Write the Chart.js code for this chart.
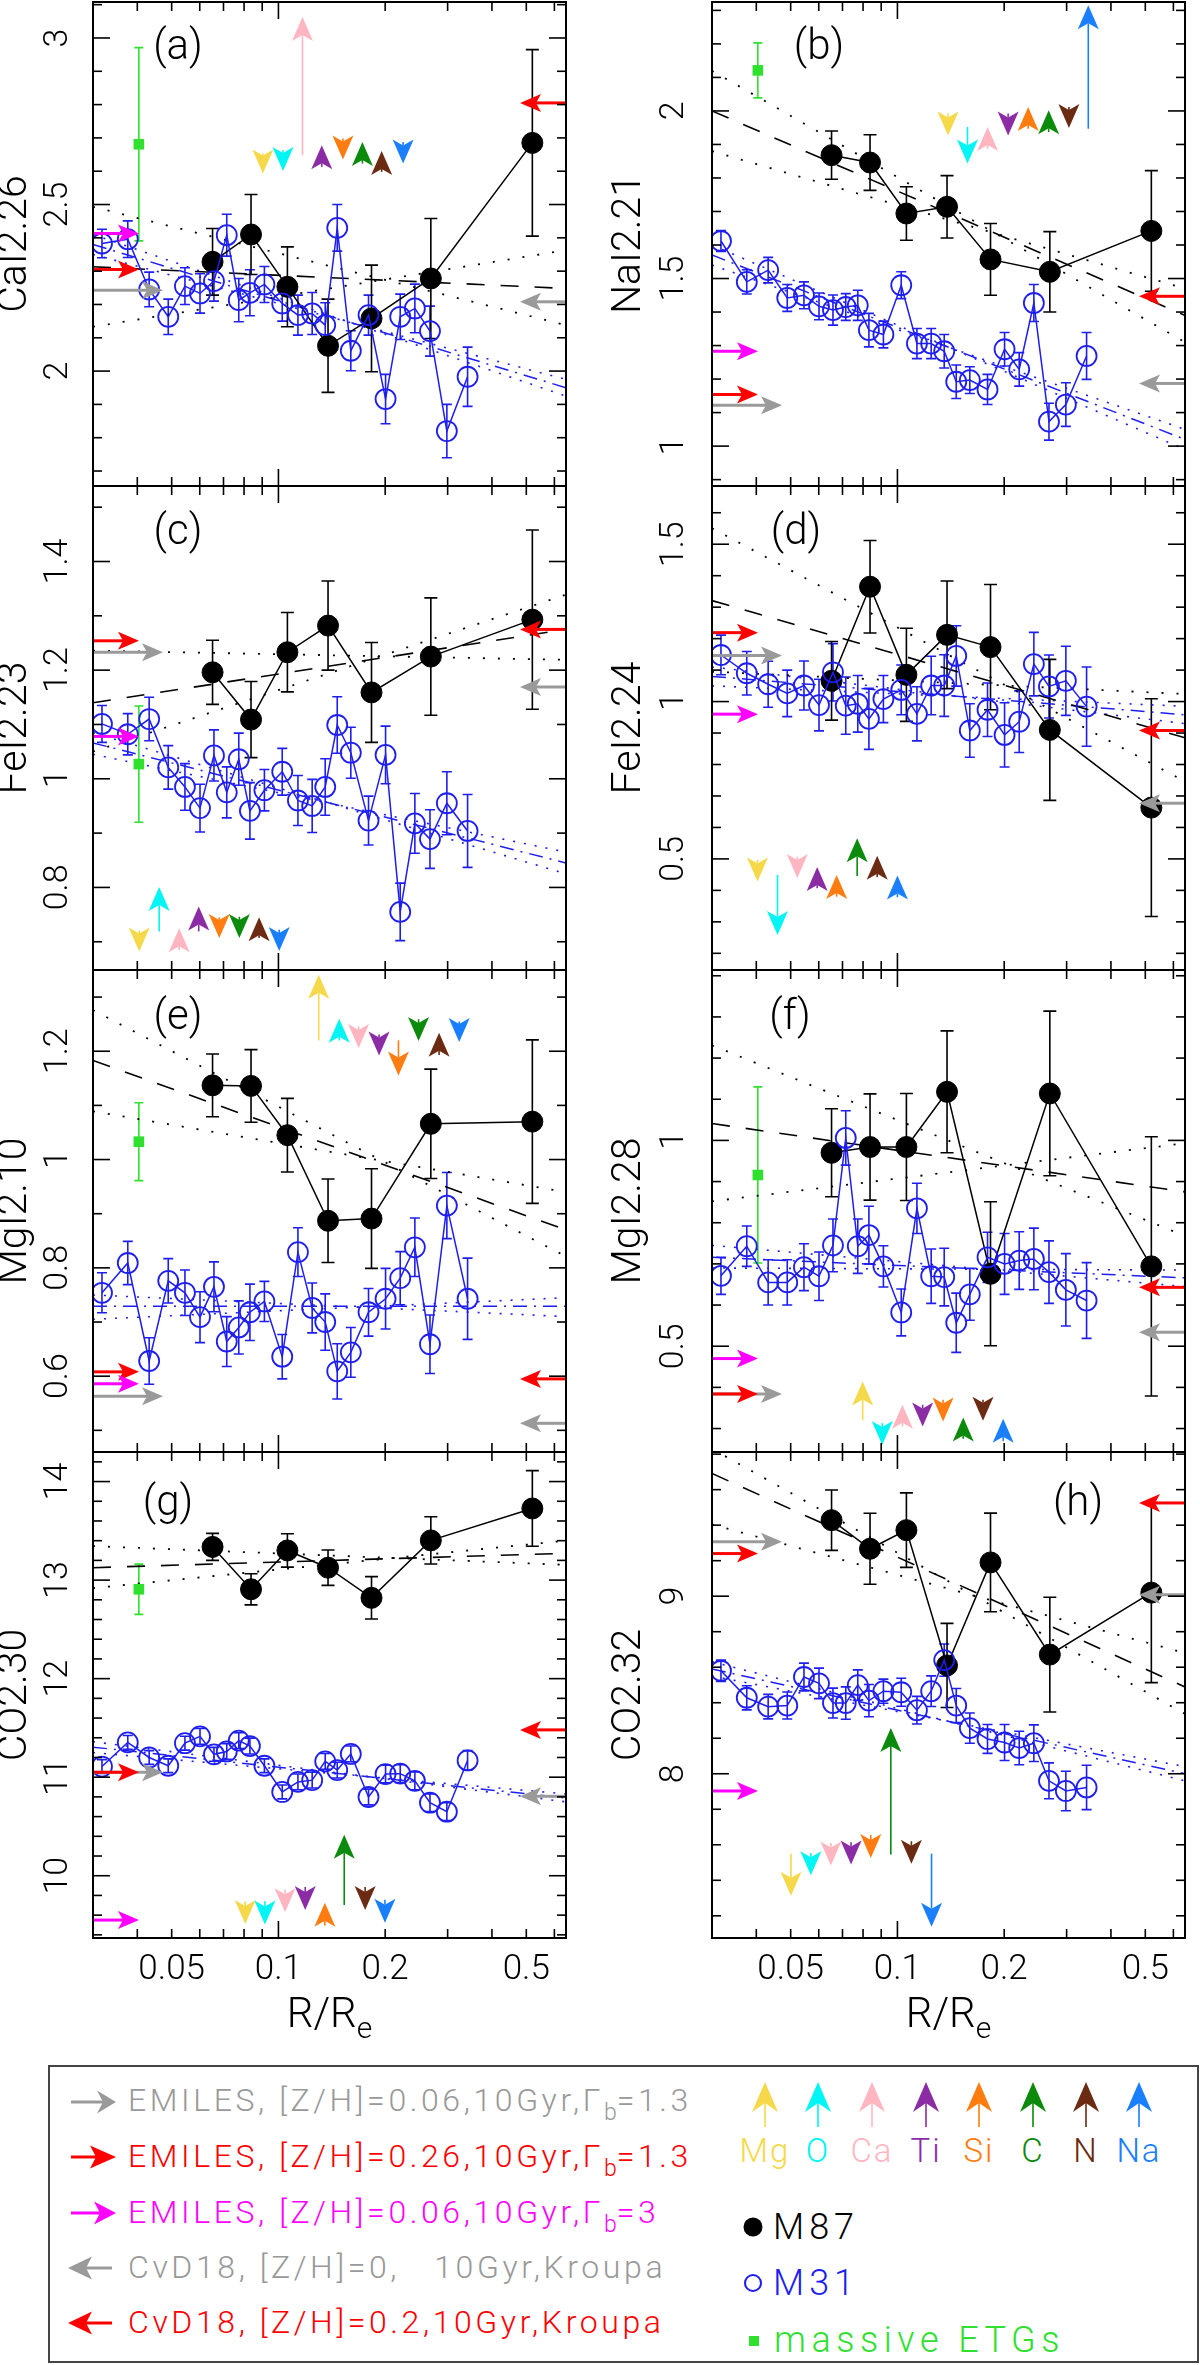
<!DOCTYPE html>
<html><head><meta charset="utf-8">
<script src="https://cdn.jsdelivr.net/npm/chart.js@4.4.1/dist/chart.umd.min.js"></script>
<style>
html,body{margin:0;padding:0;background:#fff;}
body{width:1200px;height:2365px;position:relative;overflow:hidden;font-family:Roboto,"DejaVu Sans",sans-serif;}
#legend{position:absolute;left:48px;top:2065px;width:1151px;height:298px;border:2px solid #444;box-sizing:border-box;}
.lt{position:absolute;white-space:pre;line-height:1;transform:translateY(-50%);font-weight:300;}
.lt sub{font-size:72%;vertical-align:-0.38em;line-height:0;letter-spacing:0;}
.el{position:absolute;line-height:1;transform:translate(-50%,-50%);font-size:33px;font-weight:300;letter-spacing:2px;}
#lsvg{position:absolute;left:0;top:2040px;}
.row{font-size:32px;letter-spacing:3.6px;}
</style></head><body>
<div id="legend"></div>
<svg id="lsvg" width="1200" height="325"></svg>
<div class="lt row" style="left:128px;top:2100px;color:#999">EMILES, [Z/H]=0.06,10Gyr,Γ<sub>b</sub>=1.3</div>
<div class="lt row" style="left:128px;top:2156px;color:#ff0000">EMILES, [Z/H]=0.26,10Gyr,Γ<sub>b</sub>=1.3</div>
<div class="lt row" style="left:128px;top:2212px;color:#ff00ff">EMILES, [Z/H]=0.06,10Gyr,Γ<sub>b</sub>=3</div>
<div class="lt row" style="left:128px;top:2267px;color:#999">CvD18, [Z/H]=0,   10Gyr,Kroupa</div>
<div class="lt row" style="left:128px;top:2322px;color:#ff0000">CvD18, [Z/H]=0.2,10Gyr,Kroupa</div>
<div class="lt" style="left:773px;top:2227px;font-size:36px;letter-spacing:5px;color:#000">M87</div>
<div class="lt" style="left:773px;top:2283px;font-size:36px;letter-spacing:5px;color:#1e1ef0">M31</div>
<div class="lt" style="left:774px;top:2340px;font-size:36px;letter-spacing:5.5px;color:#2fe02f">massive ETGs</div>
<div id="ellabels"></div>
<script>
// ---------------- shared radii ----------------
const R_M87 = [0.0652, 0.0837, 0.106, 0.138, 0.183, 0.269, 0.52];
const R_M31 = [0.0318, 0.0376, 0.0432, 0.0489, 0.0545, 0.0601, 0.0658, 0.0715, 0.0773, 0.0831, 0.0913, 0.1025,
               0.1135, 0.1245, 0.1355, 0.1465, 0.160, 0.1795, 0.2005, 0.2205, 0.2425, 0.2675, 0.2985, 0.3415];
const R_ETG = [0.0404];
const R_FIT = [0.03, 0.647];
const X_MIN = 0.03, X_MAX = 0.647;
const X_TICK_LABELS = [0.05, 0.1, 0.2, 0.5];
const X_MINOR = [0.04, 0.05, 0.06, 0.07, 0.08, 0.09, 0.2, 0.3, 0.4, 0.5, 0.6];
const X_MAJOR = [0.1];
const ELEMENTS = ['Mg', 'O', 'Ca', 'Ti', 'Si', 'C', 'N', 'Na'];
const EL_COLORS = ['#f5d94a', '#00f5f5', '#ffb6c1', '#8b2ca5', '#ff7c10', '#0b8a0b', '#6b2a12', '#1a7fff'];

// ---------------- (a) CaI2.26 ----------------
const CaI_m87 = [2.328, 2.41, 2.253, 2.076, 2.158, 2.278, 2.685];
const CaI_m87e = [0.10, 0.12, 0.12, 0.14, 0.16, 0.18, 0.28];
const CaI_m31 = [2.383, 2.396, 2.245, 2.163, 2.255, 2.233, 2.27, 2.408, 2.213, 2.235, 2.26, 2.203, 2.168, 2.173, 2.138, 2.43, 2.061, 2.168, 1.916, 2.163, 2.188, 2.12, 1.82, 1.983];
const CaI_m31e = [0.043, 0.055, 0.052, 0.053, 0.055, 0.059, 0.06, 0.063, 0.065, 0.069, 0.054, 0.053, 0.06, 0.063, 0.067, 0.07, 0.06, 0.06, 0.074, 0.068, 0.073, 0.075, 0.08, 0.089];
const CaI_etg = [2.681, 0.29];
const CaI_fitM87 = [[2.313, 2.248], [2.493, 2.138], [2.133, 2.363]];
const CaI_fitM31 = [[2.38, 1.95], [2.41, 1.925], [2.35, 1.975]];
const CaI_emiles = [2.243, 2.305, 2.413];
const CaI_cvd = [2.208, 2.805];
const CaI_elR = [0.0904, 0.103, 0.1169, 0.1325, 0.152, 0.1725, 0.1955, 0.2247];
const CaI_elFrom = [2.653, 2.663, 2.648, 2.613, 2.698, 2.623, 2.598, 2.688];
const CaI_elTo = [2.593, 2.601, 3.063, 2.678, 2.635, 2.688, 2.661, 2.623];

// ---------------- (b) NaI2.21 ----------------
const NaI_m87 = [1.868, 1.846, 1.694, 1.714, 1.557, 1.52, 1.642];
const NaI_m87e = [0.072, 0.083, 0.08, 0.093, 0.107, 0.12, 0.18];
const NaI_m31 = [1.612, 1.49, 1.525, 1.442, 1.45, 1.417, 1.406, 1.415, 1.42, 1.346, 1.333, 1.48, 1.306, 1.306, 1.283, 1.192, 1.197, 1.169, 1.289, 1.229, 1.427, 1.073, 1.124, 1.269];
const NaI_m31e = [0.031, 0.036, 0.038, 0.04, 0.04, 0.04, 0.045, 0.04, 0.045, 0.05, 0.04, 0.04, 0.045, 0.045, 0.05, 0.05, 0.04, 0.045, 0.05, 0.05, 0.055, 0.055, 0.065, 0.07];
const NaI_etg = [2.121, 0.082];
const NaI_fitM87 = [[2.0, 1.39], [2.12, 1.31], [1.88, 1.47]];
const NaI_fitM31 = [[1.57, 1.02], [1.60, 0.99], [1.54, 1.05]];
const NaI_emiles = [1.122, 1.154, 1.283];
const NaI_cvd = [1.187, 1.447];
const NaI_elR = [0.1389, 0.1576, 0.1796, 0.2052, 0.2337, 0.267, 0.3045, 0.3453];
const NaI_elFrom = [1.992, 1.952, 1.888, 1.992, 1.947, 1.937, 2.012, 1.947];
const NaI_elTo = [1.927, 1.843, 1.952, 1.927, 2.012, 2.002, 1.949, 2.315];

// ---------------- (c) FeI2.23 ----------------
const Fe223_m87 = [1.196, 1.109, 1.233, 1.282, 1.159, 1.225, 1.293];
const Fe223_m87e = [0.059, 0.07, 0.073, 0.082, 0.092, 0.108, 0.165];
const Fe223_m31 = [1.101, 1.082, 1.11, 1.021, 0.985, 0.946, 1.043, 0.975, 1.036, 0.941, 0.979, 1.013, 0.96, 0.95, 0.985, 1.099, 1.048, 0.923, 1.044, 0.755, 0.918, 0.889, 0.955, 0.904];
const Fe223_m31e = [0.034, 0.038, 0.04, 0.04, 0.043, 0.044, 0.047, 0.047, 0.048, 0.052, 0.038, 0.043, 0.046, 0.049, 0.052, 0.052, 0.047, 0.045, 0.053, 0.053, 0.055, 0.054, 0.058, 0.067];
const Fe223_etg = [1.027, 0.107];
const Fe223_fitM87 = [[1.14, 1.275], [1.236, 1.219], [1.05, 1.339]];
const Fe223_fitM31 = [[1.066, 0.845], [1.085, 0.825], [1.045, 0.865]];
const Fe223_emiles = [1.233, 1.254, 1.078];
const Fe223_cvd = [1.169, 1.275];
const Fe223_elR = [0.0405, 0.0461, 0.0525, 0.0596, 0.0681, 0.0776, 0.0882, 0.1005];
const Fe223_elFrom = [0.721, 0.719, 0.685, 0.719, 0.745, 0.746, 0.707, 0.722];
const Fe223_elTo = [0.682, 0.801, 0.725, 0.765, 0.707, 0.707, 0.745, 0.683];

// ---------------- (d) FeI2.24 ----------------
const Fe224_m87 = [1.066, 1.365, 1.085, 1.212, 1.173, 0.91, 0.663];
const Fe224_m87e = [0.125, 0.147, 0.148, 0.171, 0.199, 0.224, 0.346];
const Fe224_m31 = [1.148, 1.09, 1.055, 1.026, 1.051, 0.989, 1.093, 0.987, 0.993, 0.945, 1.008, 1.037, 0.961, 1.051, 1.051, 1.145, 0.908, 0.974, 0.894, 0.936, 1.119, 1.048, 1.066, 0.984];
const Fe224_m31e = [0.063, 0.069, 0.073, 0.074, 0.078, 0.082, 0.091, 0.091, 0.09, 0.097, 0.075, 0.079, 0.086, 0.093, 0.098, 0.096, 0.085, 0.085, 0.102, 0.098, 0.101, 0.1, 0.11, 0.126];
const Fe224_etg = null;
const Fe224_fitM87 = [[1.321, 0.885], [1.551, 0.746], [1.095, 1.024]];
const Fe224_fitM31 = [[1.08, 0.958], [1.11, 0.93], [1.05, 0.985]];
const Fe224_emiles = [1.146, 1.219, 0.96];
const Fe224_cvd = [0.677, 0.908];
const Fe224_elR = [0.0403, 0.0459, 0.0522, 0.0594, 0.0674, 0.077, 0.0877, 0.1];
const Fe224_elFrom = [0.497, 0.449, 0.507, 0.407, 0.38, 0.446, 0.442, 0.378];
const Fe224_elTo = [0.428, 0.258, 0.439, 0.474, 0.449, 0.566, 0.51, 0.447];

// ---------------- (e) MgI2.10 ----------------
const Mg210_m87 = [1.137, 1.136, 1.045, 0.887, 0.891, 1.066, 1.07];
const Mg210_m87e = [0.058, 0.067, 0.068, 0.077, 0.092, 0.101, 0.151];
const Mg210_m31 = [0.754, 0.809, 0.628, 0.776, 0.754, 0.709, 0.765, 0.664, 0.69, 0.718, 0.738, 0.636, 0.829, 0.726, 0.7, 0.609, 0.644, 0.718, 0.743, 0.781, 0.838, 0.659, 0.915, 0.743];
const Mg210_m31e = [0.037, 0.04, 0.043, 0.041, 0.042, 0.047, 0.046, 0.046, 0.049, 0.052, 0.037, 0.041, 0.045, 0.046, 0.052, 0.051, 0.046, 0.044, 0.056, 0.049, 0.054, 0.054, 0.061, 0.075];
const Mg210_etg = [1.033, 0.072];
const Mg210_fitM87 = [[1.183, 0.87], [1.276, 0.821], [1.089, 0.94]];
const Mg210_fitM31 = [[0.729, 0.729], [0.75, 0.71], [0.705, 0.745]];
const Mg210_emiles = [0.563, 0.608, 0.586];
const Mg210_cvd = [0.513, 0.595];
const Mg210_elR = [0.1299, 0.1484, 0.1683, 0.1922, 0.218, 0.2484, 0.2838, 0.3234];
const Mg210_elFrom = [1.22, 1.22, 1.246, 1.231, 1.22, 1.259, 1.193, 1.255];
const Mg210_elTo = [1.341, 1.26, 1.206, 1.192, 1.155, 1.219, 1.234, 1.217];

// ---------------- (f) MgI2.28 ----------------
const Mg228_m87 = [0.97, 0.984, 0.984, 1.118, 0.676, 1.114, 0.694];
const Mg228_m87e = [0.107, 0.129, 0.13, 0.148, 0.175, 0.2, 0.315];
const Mg228_m31 = [0.671, 0.743, 0.655, 0.655, 0.692, 0.67, 0.745, 1.006, 0.743, 0.77, 0.694, 0.582, 0.835, 0.67, 0.668, 0.557, 0.626, 0.716, 0.7, 0.708, 0.712, 0.68, 0.637, 0.611];
const Mg228_m31e = [0.045, 0.049, 0.055, 0.055, 0.057, 0.059, 0.064, 0.066, 0.066, 0.07, 0.05, 0.057, 0.061, 0.066, 0.07, 0.072, 0.063, 0.061, 0.074, 0.07, 0.075, 0.076, 0.088, 0.092];
const Mg228_etg = [0.916, 0.214];
const Mg228_fitM87 = [[1.041, 0.875], [1.231, 0.768], [0.852, 0.993]];
const Mg228_fitM31 = [[0.716, 0.666], [0.745, 0.645], [0.69, 0.685]];
const Mg228_emiles = [0.384, 0.384, 0.47];
const Mg228_cvd = [0.534, 0.643];
const Mg228_elR = [0.0798, 0.0906, 0.1033, 0.1178, 0.1345, 0.1533, 0.1743, 0.1987];
const Mg228_elFrom = [0.321, 0.313, 0.305, 0.358, 0.37, 0.275, 0.37, 0.27];
const Mg228_elTo = [0.414, 0.26, 0.358, 0.305, 0.317, 0.327, 0.319, 0.324];

// ---------------- (g) CO2.30 ----------------
const CO230_m87 = [13.337, 12.907, 13.301, 13.126, 12.82, 13.403, 13.727];
const CO230_m87e = [0.137, 0.158, 0.169, 0.18, 0.215, 0.24, 0.384];
const CO230_m31 = [11.108, 11.353, 11.2, 11.116, 11.345, 11.414, 11.232, 11.261, 11.371, 11.316, 11.116, 10.85, 10.952, 10.97, 11.16, 11.072, 11.236, 10.799, 11.032, 11.036, 10.963, 10.741, 10.65, 11.17];
const CO230_m31e = [0.07, 0.07, 0.07, 0.07, 0.07, 0.08, 0.07, 0.08, 0.08, 0.08, 0.07, 0.07, 0.08, 0.08, 0.08, 0.08, 0.08, 0.08, 0.09, 0.09, 0.09, 0.09, 0.09, 0.10];
const CO230_etg = [12.907, 0.255];
const CO230_fitM87 = [[13.126, 13.272], [13.345, 13.155], [12.918, 13.40]];
const CO230_fitM31 = [[11.305, 10.788], [11.36, 10.75], [11.25, 10.83]];
const CO230_emiles = [11.05, 11.05, 9.55];
const CO230_cvd = [10.806, 11.48];
const CO230_elR = [0.0806, 0.0916, 0.1044, 0.119, 0.1352, 0.1533, 0.1756, 0.1997];
const CO230_elFrom = [9.74, 9.74, 9.86, 9.886, 9.495, 9.703, 9.886, 9.757];
const CO230_elTo = [9.51, 9.505, 9.63, 9.652, 9.725, 10.417, 9.652, 9.524];

// ---------------- (h) CO2.32 ----------------
const CO232_m87 = [9.428, 9.267, 9.372, 8.61, 9.19, 8.671, 9.02];
const CO232_m87e = [0.17, 0.2, 0.21, 0.237, 0.278, 0.323, 0.507];
const CO232_m31 = [8.58, 8.428, 8.378, 8.384, 8.545, 8.509, 8.398, 8.398, 8.499, 8.412, 8.465, 8.459, 8.358, 8.465, 8.64, 8.384, 8.257, 8.196, 8.176, 8.145, 8.172, 7.96, 7.903, 7.923];
const CO232_m31e = [0.06, 0.068, 0.069, 0.076, 0.078, 0.086, 0.084, 0.091, 0.086, 0.091, 0.068, 0.079, 0.078, 0.086, 0.091, 0.096, 0.085, 0.081, 0.101, 0.094, 0.103, 0.101, 0.111, 0.125];
const CO232_etg = null;
const CO232_fitM87 = [[9.691, 8.489], [9.83, 8.337], [9.404, 8.68]];
const CO232_fitM31 = [[8.59, 8.0], [8.63, 7.96], [8.55, 8.04]];
const CO232_emiles = [9.307, 9.24, 7.903];
const CO232_cvd = [9.008, 9.525];
const CO232_elR = [0.0501, 0.057, 0.0649, 0.074, 0.0841, 0.0958, 0.1095, 0.1248];
const CO232_elFrom = [7.55, 7.554, 7.61, 7.614, 7.655, 7.545, 7.62, 7.55];
const CO232_elTo = [7.313, 7.428, 7.483, 7.489, 7.525, 8.257, 7.493, 7.139];

// ---------------- panel table ----------------
const PANELS = [
 {tag:'(a)', title:'CaI2.26', col:0, row:0, ymin:1.655, ymax:3.108, ticks:[2, 2.5, 3], step:0.1, tagPos:[85, 46],
  m87:CaI_m87, m87e:CaI_m87e, m31:CaI_m31, m31e:CaI_m31e, etg:CaI_etg, f87:CaI_fitM87, f31:CaI_fitM31, em:CaI_emiles, cvd:CaI_cvd, elR:CaI_elR, elF:CaI_elFrom, elT:CaI_elTo},
 {tag:'(b)', title:'NaI2.21', col:1, row:0, ymin:0.881, ymax:2.325, ticks:[1, 1.5, 2], step:0.1, tagPos:[107, 46],
  m87:NaI_m87, m87e:NaI_m87e, m31:NaI_m31, m31e:NaI_m31e, etg:NaI_etg, f87:NaI_fitM87, f31:NaI_fitM31, em:NaI_emiles, cvd:NaI_cvd, elR:NaI_elR, elF:NaI_elFrom, elT:NaI_elTo},
 {tag:'(c)', title:'FeI2.23', col:0, row:1, ymin:0.648, ymax:1.539, ticks:[0.8, 1, 1.2, 1.4], step:0.1, tagPos:[85, 47],
  m87:Fe223_m87, m87e:Fe223_m87e, m31:Fe223_m31, m31e:Fe223_m31e, etg:Fe223_etg, f87:Fe223_fitM87, f31:Fe223_fitM31, em:Fe223_emiles, cvd:Fe223_cvd, elR:Fe223_elR, elF:Fe223_elFrom, elT:Fe223_elTo},
 {tag:'(d)', title:'FeI2.24', col:1, row:1, ymin:0.147, ymax:1.685, ticks:[0.5, 1, 1.5], step:0.1, tagPos:[84, 47],
  m87:Fe224_m87, m87e:Fe224_m87e, m31:Fe224_m31, m31e:Fe224_m31e, etg:Fe224_etg, f87:Fe224_fitM87, f31:Fe224_fitM31, em:Fe224_emiles, cvd:Fe224_cvd, elR:Fe224_elR, elF:Fe224_elFrom, elT:Fe224_elTo},
 {tag:'(e)', title:'MgI2.10', col:0, row:2, ymin:0.46, ymax:1.35, ticks:[0.6, 0.8, 1, 1.2], step:0.1, tagPos:[85, 48],
  m87:Mg210_m87, m87e:Mg210_m87e, m31:Mg210_m31, m31e:Mg210_m31e, etg:Mg210_etg, f87:Mg210_fitM87, f31:Mg210_fitM31, em:Mg210_emiles, cvd:Mg210_cvd, elR:Mg210_elR, elF:Mg210_elFrom, elT:Mg210_elTo},
 {tag:'(f)', title:'MgI2.28', col:1, row:2, ymin:0.243, ymax:1.414, ticks:[0.5, 1], step:0.1, tagPos:[78, 48],
  m87:Mg228_m87, m87e:Mg228_m87e, m31:Mg228_m31, m31e:Mg228_m31e, etg:Mg228_etg, f87:Mg228_fitM87, f31:Mg228_fitM31, em:Mg228_emiles, cvd:Mg228_cvd, elR:Mg228_elR, elF:Mg228_elFrom, elT:Mg228_elTo},
 {tag:'(g)', title:'CO2.30', col:0, row:3, ymin:9.368, ymax:14.30, ticks:[10, 11, 12, 13, 14], step:0.2, tagPos:[75, 52],
  m87:CO230_m87, m87e:CO230_m87e, m31:CO230_m31, m31e:CO230_m31e, etg:CO230_etg, f87:CO230_fitM87, f31:CO230_fitM31, em:CO230_emiles, cvd:CO230_cvd, elR:CO230_elR, elF:CO230_elFrom, elT:CO230_elTo},
 {tag:'(h)', title:'CO2.32', col:1, row:3, ymin:7.075, ymax:9.812, ticks:[8, 9], step:0.2, tagPos:[366, 52],
  m87:CO232_m87, m87e:CO232_m87e, m31:CO232_m31, m31e:CO232_m31e, etg:CO232_etg, f87:CO232_fitM87, f31:CO232_fitM31, em:CO232_emiles, cvd:CO232_cvd, elR:CO232_elR, elF:CO232_elFrom, elT:CO232_elTo}
];

// ---------------- layout / style ----------------
const COL_X = [93, 712], FW = 473;
const ROW_Y = [2, 486, 970, 1452], ROW_H = [484, 484, 482, 486];
const CANVAS_X = [0, 605];
const LAB_OFF = [35, 38], TITLE_OFF = [77, 82];
const BLUE = '#1e1ef0', GREEN = '#2fe02f', GRAY = '#9a9a9a', RED = '#ff0000', MAGENTA = '#ff00ff';
const FONT = 'Roboto, "DejaVu Sans", sans-serif';

function pts(xs, ys) { return xs.map((x, i) => ({x: x, y: ys[i]})); }

function arrowHead(ctx, tx, ty, ux, uy, L, W, N) {
  const bx = tx - ux * L, by = ty - uy * L, nx = -uy, ny = ux;
  ctx.beginPath();
  ctx.moveTo(tx, ty);
  ctx.lineTo(bx + nx * W / 2, by + ny * W / 2);
  ctx.lineTo(tx - ux * (L - N), ty - uy * (L - N));
  ctx.lineTo(bx - nx * W / 2, by - ny * W / 2);
  ctx.closePath();
  ctx.fill();
}
function arrow(ctx, x0, y0, x1, y1, color, lw, L, W, N) {
  const dx = x1 - x0, dy = y1 - y0, len = Math.hypot(dx, dy) || 1;
  const ux = dx / len, uy = dy / len;
  ctx.strokeStyle = color; ctx.fillStyle = color; ctx.lineWidth = lw;
  const stem = len - (L - N);
  if (stem > 0) {
    ctx.beginPath(); ctx.moveTo(x0, y0); ctx.lineTo(x0 + ux * stem, y0 + uy * stem); ctx.stroke();
  }
  arrowHead(ctx, x1, y1, ux, uy, L, W, N);
}

const errPlugin = {
  id: 'errbars',
  beforeDatasetsDraw(chart) {
    const {ctx, scales: {y}, chartArea: a} = chart;
    ctx.save();
    ctx.beginPath(); ctx.rect(a.left, a.top, a.right - a.left, a.bottom - a.top); ctx.clip();
    chart.data.datasets.forEach((d, i) => {
      if (!d.err) return;
      const meta = chart.getDatasetMeta(i);
      ctx.strokeStyle = d.errColor; ctx.lineWidth = 1.6;
      meta.data.forEach((pt, j) => {
        const v = d.data[j].y, e = d.err[j];
        const yt = y.getPixelForValue(v + e), yb = y.getPixelForValue(v - e), h = d.cap / 2;
        ctx.beginPath();
        ctx.moveTo(pt.x, yt); ctx.lineTo(pt.x, yb);
        ctx.moveTo(pt.x - h, yt); ctx.lineTo(pt.x + h, yt);
        ctx.moveTo(pt.x - h, yb); ctx.lineTo(pt.x + h, yb);
        ctx.stroke();
      });
    });
    ctx.restore();
  }
};

function makeDeco(P) {
  return {
    id: 'deco',
    afterDatasetsDraw(chart) {
      const {ctx, scales: {x, y}, chartArea: a} = chart;
      ctx.save();
      const emCol = [GRAY, RED, MAGENTA], emLen = [70, 46, 46];
      P.em.forEach((v, i) => {
        const py = y.getPixelForValue(v);
        arrow(ctx, a.left, py, a.left + emLen[i], py, emCol[i], 3, 21, 18, 5);
      });
      const cvCol = [GRAY, RED];
      P.cvd.forEach((v, i) => {
        const py = y.getPixelForValue(v);
        arrow(ctx, a.right, py, a.right - 46, py, cvCol[i], 3, 21, 18, 5);
      });
      P.elR.forEach((r, i) => {
        const px = x.getPixelForValue(r);
        arrow(ctx, px, y.getPixelForValue(P.elF[i]), px, y.getPixelForValue(P.elT[i]), EL_COLORS[i], 1.6, 24, 21, 6);
      });
      ctx.restore();
    },
    afterDraw(chart) {
      const {ctx, scales: {x, y}, chartArea: a} = chart;
      ctx.save();
      ctx.strokeStyle = '#000'; ctx.lineWidth = 2;
      ctx.strokeRect(a.left, a.top, a.right - a.left, a.bottom - a.top);
      ctx.lineWidth = 1.6;
      const seg = (x0, y0, x1, y1) => { ctx.beginPath(); ctx.moveTo(x0, y0); ctx.lineTo(x1, y1); ctx.stroke(); };
      X_MINOR.forEach(v => { const px = x.getPixelForValue(v); seg(px, a.bottom, px, a.bottom - 9); seg(px, a.top, px, a.top + 9); });
      X_MAJOR.forEach(v => { const px = x.getPixelForValue(v); seg(px, a.bottom, px, a.bottom - 17); seg(px, a.top, px, a.top + 17); });
      const n0 = Math.ceil(P.ymin / P.step - 1e-6), n1 = Math.floor(P.ymax / P.step + 1e-6);
      for (let n = n0; n <= n1; n++) {
        const v = n * P.step, py = y.getPixelForValue(v);
        const major = P.ticks.some(t => Math.abs(t - v) < 1e-6);
        const L = major ? 17 : 9;
        seg(a.left, py, a.left + L, py); seg(a.right, py, a.right - L, py);
      }
      ctx.fillStyle = '#000';
      ctx.font = '300 34px ' + FONT;
      ctx.textAlign = 'center'; ctx.textBaseline = 'middle';
      P.ticks.forEach(t => {
        const py = y.getPixelForValue(t);
        ctx.save(); ctx.translate(a.left - LAB_OFF[P.col], py); ctx.rotate(-Math.PI / 2);
        ctx.fillText(String(t), 0, 0); ctx.restore();
      });
      ctx.font = '300 41px ' + FONT;
      ctx.save(); ctx.translate(a.left - TITLE_OFF[P.col], (a.top + a.bottom) / 2); ctx.rotate(-Math.PI / 2);
      ctx.fillText(P.title, 0, 0); ctx.restore();
      ctx.font = '300 42px ' + FONT;
      ctx.fillText(P.tag, a.left + P.tagPos[0], a.top + P.tagPos[1]);
      if (P.row === 3) {
        ctx.font = '300 35px ' + FONT;
        X_TICK_LABELS.forEach(v => ctx.fillText(String(v), x.getPixelForValue(v), a.bottom + 32));
        const cx = (a.left + a.right) / 2, cy = a.bottom + 78;
        ctx.font = '300 42px ' + FONT;
        const w1 = ctx.measureText('R/R').width;
        ctx.font = '300 30px ' + FONT;
        const w2 = ctx.measureText('e').width;
        const x0 = cx - (w1 + w2) / 2;
        ctx.textAlign = 'left';
        ctx.font = '300 42px ' + FONT;
        ctx.fillText('R/R', x0, cy);
        ctx.font = '300 30px ' + FONT;
        ctx.fillText('e', x0 + w1, cy + 14);
      }
      ctx.restore();
    }
  };
}

PANELS.forEach(P => {
  const FX = COL_X[P.col], FY = ROW_Y[P.row], FH = ROW_H[P.row];
  const padL = FX - CANVAS_X[P.col], padR = 12, padT = 24, padB = P.row === 3 ? 125 : 24;
  const W = padL + FW + padR, H = padT + FH + padB;
  const cv = document.createElement('canvas');
  cv.width = W; cv.height = H;
  cv.style.cssText = 'position:absolute;left:' + CANVAS_X[P.col] + 'px;top:' + (FY - padT) + 'px;width:' + W + 'px;height:' + H + 'px;';
  document.body.appendChild(cv);
  const ds = [];
  ds.push({label: 'M31', data: pts(R_M31, P.m31), err: P.m31e, cap: 10, errColor: BLUE,
    borderColor: BLUE, borderWidth: 1.5, pointRadius: 10, pointBorderWidth: 1.8,
    pointBackgroundColor: 'rgba(0,0,0,0)', pointBorderColor: BLUE, pointStyle: 'circle'});
  ds.push({label: 'M87', data: pts(R_M87, P.m87), err: P.m87e, cap: 13, errColor: '#000',
    borderColor: '#000', borderWidth: 1.5, pointRadius: 10.5, pointBorderWidth: 1,
    pointBackgroundColor: '#000', pointBorderColor: '#000', pointStyle: 'circle'});
  if (P.etg) {
    ds.push({label: 'massive ETGs', data: pts(R_ETG, [P.etg[0]]), err: [P.etg[1]], cap: 9, errColor: GREEN,
      showLine: false, pointRadius: 7.5, pointStyle: 'rect', pointBackgroundColor: GREEN, pointBorderColor: GREEN, pointBorderWidth: 0});
  }
  const lineDs = (vals, color, dash, lw) => ({data: pts(R_FIT, vals), borderColor: color, borderDash: dash, borderWidth: lw, pointRadius: 0, fill: false});
  ds.push(lineDs(P.f87[0], '#000', [18, 16], 1.6));
  ds.push(lineDs(P.f87[1], '#000', [2, 13], 1.8));
  ds.push(lineDs(P.f87[2], '#000', [2, 13], 1.8));
  ds.push(lineDs(P.f31[0], BLUE, [14, 7, 2, 7], 1.5));
  ds.push(lineDs(P.f31[1], BLUE, [2, 9], 1.6));
  ds.push(lineDs(P.f31[2], BLUE, [2, 9], 1.6));
  new Chart(cv, {
    type: 'line',
    data: {datasets: ds},
    options: {
      responsive: false, devicePixelRatio: 1, animation: false,
      layout: {padding: {left: padL, right: padR, top: padT, bottom: padB}},
      elements: {line: {tension: 0}},
      scales: {
        x: {type: 'logarithmic', min: X_MIN, max: X_MAX, display: false, bounds: 'data'},
        y: {type: 'linear', min: P.ymin, max: P.ymax, display: false, bounds: 'data'}
      },
      plugins: {legend: {display: false}, tooltip: {enabled: false}}
    },
    plugins: [errPlugin, makeDeco(P)]
  });
});

// ---------------- legend graphics ----------------
(function () {
  const svg = document.getElementById('lsvg');
  const OY = 2040;
  const NS = 'http://www.w3.org/2000/svg';
  function add(tag, attrs) { const e = document.createElementNS(NS, tag); for (const k in attrs) e.setAttribute(k, attrs[k]); svg.appendChild(e); }
  function svgArrow(x0, y0, x1, y1, color, lw, L, W, N) {
    const dx = x1 - x0, dy = y1 - y0, len = Math.hypot(dx, dy), ux = dx / len, uy = dy / len, nx = -uy, ny = ux;
    const stem = len - (L - N);
    add('line', {x1: x0, y1: y0 - OY, x2: x0 + ux * stem, y2: y0 + uy * stem - OY, stroke: color, 'stroke-width': lw});
    const bx = x1 - ux * L, by = y1 - uy * L;
    const p = [[x1, y1], [bx + nx * W / 2, by + ny * W / 2], [x1 - ux * (L - N), y1 - uy * (L - N)], [bx - nx * W / 2, by - ny * W / 2]];
    add('polygon', {points: p.map(q => q[0] + ',' + (q[1] - OY)).join(' '), fill: color});
  }
  const rows = [[2102, GRAY, 1, 19], [2157, RED, 1, 26], [2213, MAGENTA, 1, 22], [2268, GRAY, -1, 24], [2323, RED, -1, 24]];
  rows.forEach(r => {
    if (r[2] > 0) svgArrow(71, r[0], 116, r[0], r[1], 3, r[3], 23, 6);
    else svgArrow(112, r[0], 68, r[0], r[1], 3, r[3], 23, 6);
  });
  const ex = [765, 818, 872, 926, 979, 1033, 1086, 1139];
  const lab = document.getElementById('ellabels');
  ex.forEach((xx, i) => {
    svgArrow(xx, 2127, xx, 2082, EL_COLORS[i], 1.6, 30, 26, 9);
    const d = document.createElement('div');
    d.className = 'el'; d.style.left = xx + 'px'; d.style.top = '2150px'; d.style.color = EL_COLORS[i];
    d.textContent = ELEMENTS[i];
    lab.appendChild(d);
  });
  add('circle', {cx: 753, cy: 2227 - OY, r: 9.5, fill: '#000'});
  add('circle', {cx: 753, cy: 2283 - OY, r: 8, fill: 'none', stroke: BLUE, 'stroke-width': 2});
  add('rect', {x: 749, y: 2336 - OY, width: 10, height: 10, fill: GREEN});
})();
</script>
</body></html>
